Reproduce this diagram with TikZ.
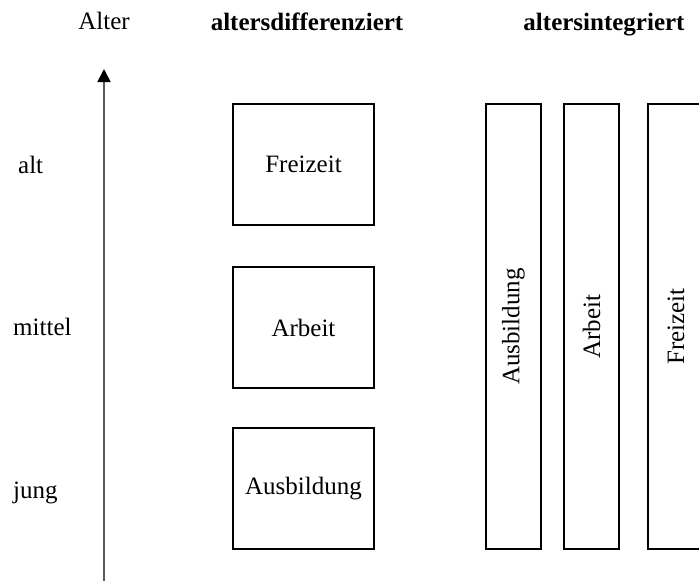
\documentclass[tikz,border=0pt]{standalone}
\usepackage{fontspec}
\setmainfont{Liberation Serif}
\usetikzlibrary{arrows.meta}
\begin{document}
\begin{tikzpicture}[x=1pt,y=-1pt,
  lbl/.style={font=\fontsize{25}{30}\selectfont, inner sep=0pt},
  head/.style={font=\fontsize{25}{30}\selectfont\bfseries, inner sep=0pt, anchor=base},
  bx/.style={draw=black, line width=2pt, inner sep=0pt, font=\fontsize{25}{30}\selectfont},
  axis/.style={draw=black!65, line width=1.7pt, -{Triangle[length=13pt,width=13pt,color=black]}}
]
\useasboundingbox (0,0) rectangle (699,581);
\begin{scope}
\clip (0,0) rectangle (699,581);
% headers
\node[lbl, anchor=base] (alter) at (104,29) {Alter};
\node[head] (hd1) at (307,30) {altersdifferenziert};
\node[head] (hd2) at (604,30) {altersintegriert};
% age labels
\node[lbl, anchor=base west] (alt) at (18,173) {alt};
\node[lbl, anchor=base west] (mittel) at (13,335) {mittel};
\node[lbl, anchor=base west] (jung) at (13,498) {jung};
% axis
\coordinate (axb) at (104,585);
\coordinate (axt) at (104,69);
\draw[axis] (axb) -- (axt);
% left boxes
\node[bx, minimum width=141pt, minimum height=121pt] (frei) at (303.5,164.5) {Freizeit};
\node[bx, minimum width=141pt, minimum height=121pt] (arb) at (303.5,327.5) {Arbeit};
\node[bx, minimum width=141pt, minimum height=121pt] (aus) at (303.5,488.5) {Ausbildung};
% right tall boxes
\node[bx, minimum width=55pt, minimum height=445pt] (vaus) at (513.5,326.5) {};
\node[rotate=90, lbl] (vausl) at (vaus) {Ausbildung};
\node[bx, minimum width=55pt, minimum height=445pt] (varb) at (591.5,326.5) {};
\node[rotate=90, lbl] (varbl) at (varb) {Arbeit};
\node[bx, minimum width=56pt, minimum height=445pt] (vfrei) at (676,326.5) {};
\node[rotate=90, lbl] (vfreil) at (vfrei) {Freizeit};
\end{scope}
\end{tikzpicture}
\end{document}
